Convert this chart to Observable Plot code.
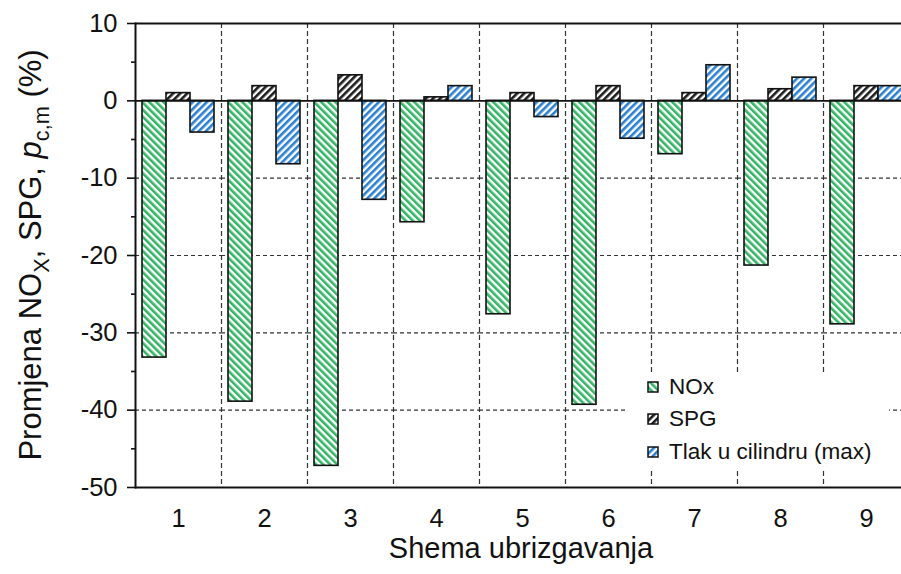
<!DOCTYPE html>
<html>
<head>
<meta charset="utf-8">
<script src="https://cdn.jsdelivr.net/npm/d3@7"></script>
<script src="https://cdn.jsdelivr.net/npm/@observablehq/plot@0.6"></script>
<style>
  html, body { margin: 0; padding: 0; background: #fff; overflow: hidden; }
  body { width: 901px; height: 574px; position: relative; font-family: "Liberation Sans", Arial, sans-serif; }
  #chart { position: absolute; left: 0; top: 0; width: 920px; }
  #chart svg { max-width: none !important; }
  #ylabel { position: absolute; left: 34px; top: 255px; transform: translate(-50%, -50%) rotate(-90deg); white-space: nowrap; font-size: 31px; color: #111; }
  #xlabel { position: absolute; left: 521px; top: 548px; transform: translate(-50%, -50%); white-space: nowrap; font-size: 29px; color: #111; }
  #legend { position: absolute; left: 627px; top: 372px; width: 262px; height: 96px; background: #fff; }
  .row { position: absolute; left: 20px; display: flex; align-items: center; font-size: 22.5px; color: #111; white-space: nowrap; }
  .row svg { margin-right: 10px; }
</style>
</head>
<body>
<div id="chart"></div>
<div id="ylabel">Promjena NO<sub style="font-size:0.7em">X</sub>, SPG, <i>p</i><sub style="font-size:0.7em">c,m</sub> (%)</div>
<div id="xlabel">Shema ubrizgavanja</div>
<div id="legend"></div>
<script>
const schemes = ["1","2","3","4","5","6","7","8","9"];
const series = ["NOx", "SPG", "Tlak u cilindru (max)"];
const nox  = [-33.2, -38.9, -47.2, -15.7, -27.6, -39.3, -6.9, -21.3, -28.9];
const spg  = [1.0, 1.9, 3.3, 0.45, 1.0, 1.9, 1.0, 1.5, 1.9];
const tlak = [-4.1, -8.2, -12.8, 1.9, -2.1, -4.9, 4.6, 3.0, 1.9];
const yTicks = [10, 0, -10, -20, -30, -40, -50];
const yMinorTicks = [5, -5, -15, -25, -35, -45];
const yGrid = [-10, -20, -30, -40];

const fills = {"NOx": "url(#patNOx)", "SPG": "url(#patSPG)", "Tlak u cilindru (max)": "url(#patTlak)"};
const valuesBySeries = {"NOx": nox, "SPG": spg, "Tlak u cilindru (max)": tlak};
const rows = series.flatMap(s => schemes.map((k, i) => ({scheme: k, series: s, value: valuesBySeries[s][i]})));

const marks = [
  Plot.ruleY(yGrid, {stroke: "#333", strokeWidth: 1.2, strokeDasharray: "4,3"}),
  Plot.frame({anchor: "right", stroke: "#333", strokeWidth: 1.2, strokeDasharray: "4,4"}),
  ...series.map(s => Plot.barY(rows.filter(d => d.series === s), {
    fx: "scheme", x: "series", y: "value",
    fill: fills[s], stroke: "#111", strokeWidth: 1.6
  })),
  Plot.ruleY([0], {stroke: "#111", strokeWidth: 1.8}),
  Plot.ruleY([10, -50], {stroke: "#111", strokeWidth: 2}),
  Plot.frame({anchor: "left", facetAnchor: "left", stroke: "#111", strokeWidth: 2}),
  Plot.axisY({ticks: yTicks, tickSize: 8, tickPadding: 10, fontSize: 25.5, tickFormat: d => String(d), label: null, stroke: "#111", strokeWidth: 1.6, color: "#111"}),
  Plot.axisY({ticks: yMinorTicks, tickSize: 4, tickFormat: () => "", label: null, stroke: "#111", strokeWidth: 1.6}),
  Plot.axisFx({anchor: "bottom", tickSize: 0, tickPadding: 21, fontSize: 25.5, label: null, color: "#111"})
];

const plot = Plot.plot({
  width: 920,
  height: 574,
  marginLeft: 132,
  marginRight: 9,
  marginTop: 23,
  marginBottom: 87,
  style: {fontFamily: "'Liberation Sans', Arial, sans-serif", background: "#fff", color: "#111", maxWidth: "none"},
  fx: {domain: schemes, padding: 0},
  x: {domain: series, paddingInner: 0, paddingOuter: 0.23, axis: null},
  y: {domain: [-50, 10]},
  marks
});

const ns = "http://www.w3.org/2000/svg";
function addPattern(defs, id, color, angle) {
  const p = document.createElementNS(ns, "pattern");
  p.setAttribute("id", id);
  p.setAttribute("patternUnits", "userSpaceOnUse");
  p.setAttribute("width", "5");
  p.setAttribute("height", "5");
  p.setAttribute("patternTransform", `rotate(${angle})`);
  const bg = document.createElementNS(ns, "rect");
  bg.setAttribute("width", "5"); bg.setAttribute("height", "5"); bg.setAttribute("fill", "#fff");
  const st = document.createElementNS(ns, "rect");
  st.setAttribute("width", "2.6"); st.setAttribute("height", "5"); st.setAttribute("fill", color);
  p.appendChild(bg); p.appendChild(st);
  defs.appendChild(p);
}
const defs = document.createElementNS(ns, "defs");
addPattern(defs, "patNOx", "#33b565", -45);
addPattern(defs, "patSPG", "#1a1a1a", 45);
addPattern(defs, "patTlak", "#2a80d2", 45);
plot.insertBefore(defs, plot.firstChild);
plot.style.maxWidth = "none";
document.getElementById("chart").appendChild(plot);

const legend = document.getElementById("legend");
const legendY = [15, 47, 80];
series.forEach((s, i) => {
  const row = document.createElement("div");
  row.className = "row";
  row.style.top = (legendY[i] - 14) + "px";
  row.style.height = "28px";
  row.innerHTML = `<svg width="12" height="12"><rect x="1" y="1" width="10" height="10" fill="${fills[s]}" stroke="#111" stroke-width="1.5"/></svg><span>${s}</span>`;
  legend.appendChild(row);
});
</script>
</body>
</html>
